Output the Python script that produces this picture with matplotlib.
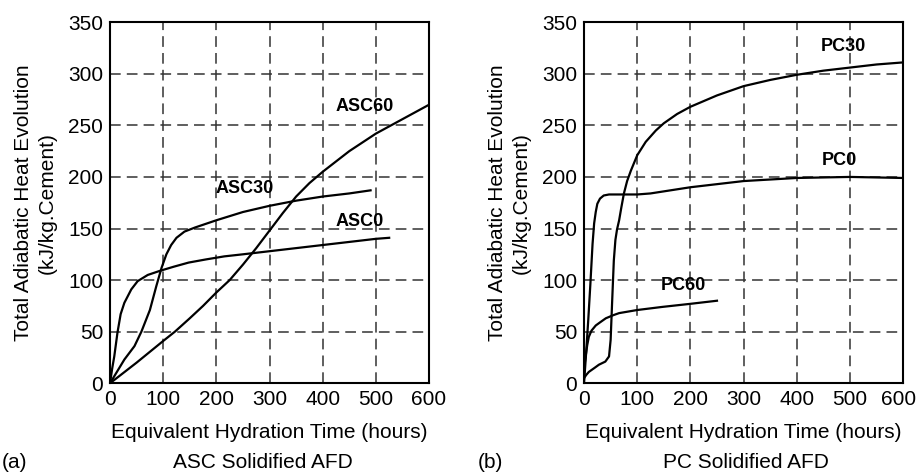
import matplotlib.pyplot as plt
import matplotlib.transforms as mtransforms

plt.rcParams['font.family'] = ['Liberation Sans', 'DejaVu Sans']

# ASC 固化 AFD
asc0_t = [0, 4, 8, 14, 20, 27, 40, 52, 71, 94, 120, 148, 180, 215, 250, 300, 350, 400, 450, 500, 525]
asc0_q = [0, 14, 26, 49, 67, 78, 91, 99, 105, 109, 113, 117, 120, 123, 125, 128, 131, 134, 137, 140, 141]
asc30_t = [0, 27, 46, 59, 75, 87, 97, 106, 115, 125, 140, 160, 200, 250, 300, 350, 400, 450, 490]
asc30_q = [0, 23, 36, 50, 71, 94, 112, 125, 134, 141, 147, 151, 158, 166, 172, 177, 181, 184, 187]
asc60_t = [0, 50, 100, 122, 150, 175, 200, 225, 250, 275, 300, 325, 350, 375, 400, 450, 500, 550, 600]
asc60_q = [0, 20, 41, 50, 63, 75, 88, 100, 115, 131, 148, 165, 181, 194, 205, 225, 242, 256, 270]

# PC 固化 AFD
pc0_t = [0, 4, 8, 12, 16, 19, 22, 25, 30, 37, 47, 75, 100, 125, 150, 200, 250, 300, 400, 500, 600]
pc0_q = [0, 30, 62, 97, 135, 155, 166, 174, 179, 182, 183, 183, 183, 184, 186, 190, 193, 196, 199, 200, 199]
pc30_t = [0, 4, 9, 20, 28, 40, 47, 50, 53, 56, 59, 62, 66, 70, 75, 81, 88, 100, 116, 135, 150, 175, 200, 250, 300, 350, 400, 450, 500, 550, 600]
pc30_q = [5, 8, 11, 15, 18, 21, 26, 42, 81, 119, 139, 149, 158, 170, 184, 196, 206, 221, 234, 245, 252, 261, 268, 279, 288, 294, 299, 303, 306, 309, 311]
pc60_t = [0, 1, 3, 6, 9, 14, 22, 30, 41, 55, 66, 100, 147, 200, 250]
pc60_q = [10, 18, 26, 37, 45, 51, 56, 59, 63, 66, 68, 71, 74, 77, 80]

fig = plt.figure(figsize=(9.16, 4.72), dpi=100)
ax1 = fig.add_axes([0.1201, 0.188, 0.3483, 0.765])
ax2 = fig.add_axes([0.6376, 0.188, 0.3483, 0.765])

ax1.plot(asc0_t, asc0_q, color='black', lw=1.6)
ax1.plot(asc30_t, asc30_q, color='black', lw=1.6)
ax1.plot(asc60_t, asc60_q, color='black', lw=1.6)
ax1.text(478, 268, 'ASC60', fontsize=13, fontweight='bold', ha='center', va='center')
ax1.text(254, 189, 'ASC30', fontsize=13, fontweight='bold', ha='center', va='center')
ax1.text(470, 157, 'ASC0', fontsize=13, fontweight='bold', ha='center', va='center')

ax2.plot(pc0_t, pc0_q, color='black', lw=1.6)
ax2.plot(pc30_t, pc30_q, color='black', lw=1.6)
ax2.plot(pc60_t, pc60_q, color='black', lw=1.6)
ax2.text(487, 326, 'PC30', fontsize=13, fontweight='bold', ha='center', va='center')
ax2.text(481, 216, 'PC0', fontsize=13, fontweight='bold', ha='center', va='center')
ax2.text(186, 95, 'PC60', fontsize=13, fontweight='bold', ha='center', va='center')

for ax in (ax1, ax2):
    ax.set_xlim(0, 600)
    ax.set_ylim(0, 350)
    ax.set_xticks(range(0, 601, 100))
    ax.set_yticks(range(0, 351, 50))
    ax.grid(True, linestyle=(0, (7, 4)), color='#333333', lw=1.1)
    ax.tick_params(length=0, labelsize=15, pad=5)
    ax.set_xlabel('Equivalent Hydration Time (hours)', fontsize=15, labelpad=10)
    ax.set_ylabel('Total Adiabatic Heat Evolution\n(kJ/kg.Cement)', fontsize=15,
                  labelpad=8, linespacing=1.35)
    for s in ax.spines.values():
        s.set_linewidth(1.5)

# 右图最后一个刻度标签稍微左移，避免被裁切
fig.canvas.draw()
last = ax2.get_xticklabels()[-1]
last.set_transform(last.get_transform() + mtransforms.ScaledTranslation(-5 / 100, 0, fig.dpi_scale_trans))

fig.text(0.002, 0.008, '(a)', fontsize=15)
fig.text(0.287, 0.008, 'ASC Solidified AFD', fontsize=15, ha='center')
fig.text(0.522, 0.008, '(b)', fontsize=15)
fig.text(0.814, 0.008, 'PC Solidified AFD', fontsize=15, ha='center')

fig.savefig('out.png', dpi=100)
